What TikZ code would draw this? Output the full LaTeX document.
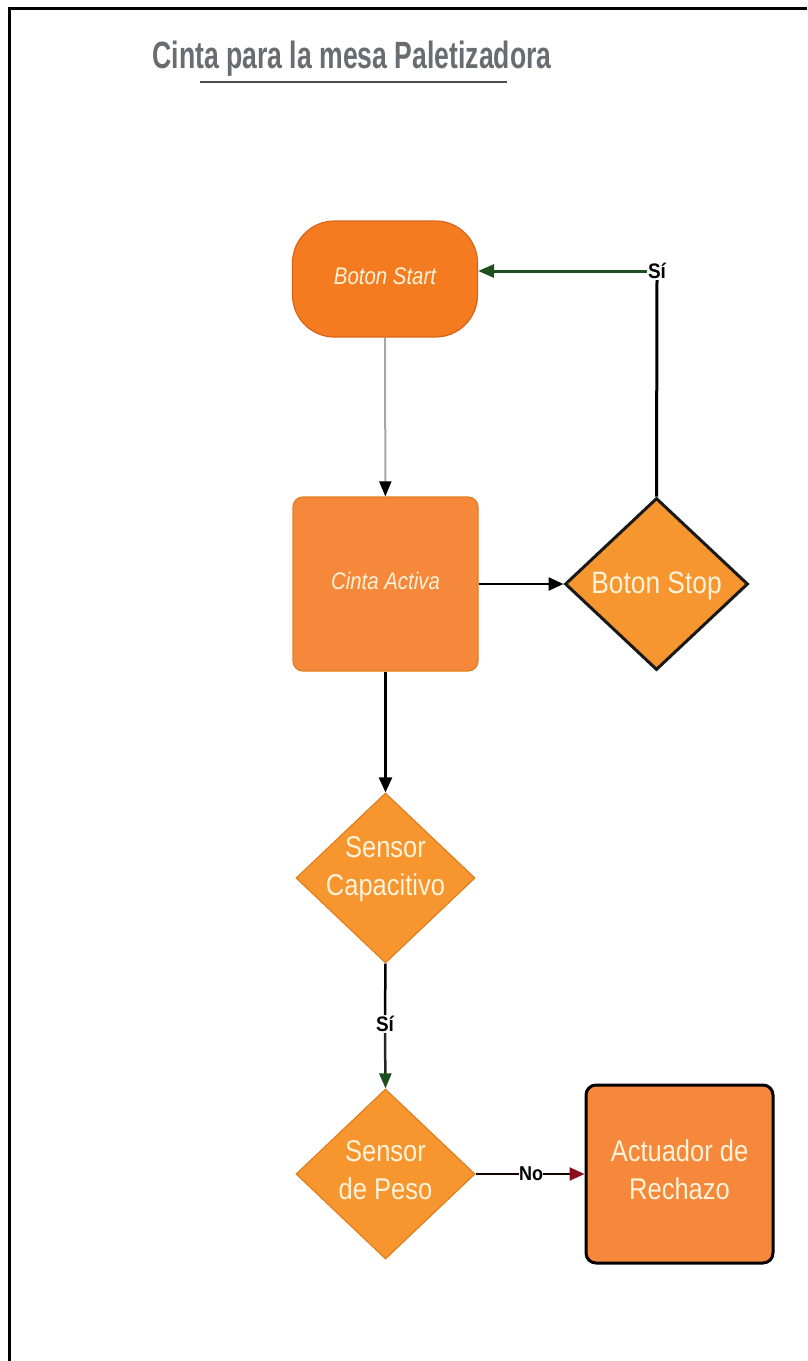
\documentclass[tikz,border=0pt]{standalone}
\usepackage{fontspec}
\setmainfont{Liberation Sans}
\usetikzlibrary{shapes.geometric,arrows.meta}
\definecolor{startor}{HTML}{F47B20}
\definecolor{startbd}{HTML}{D8641A}
\definecolor{boxor}{HTML}{F5883A}
\definecolor{diaor}{HTML}{F7952F}
\definecolor{diabd}{HTML}{E07F1E}
\definecolor{cream}{HTML}{FFF3DA}
\definecolor{titlegray}{HTML}{6B6C71}
\definecolor{dkgreen}{HTML}{1E4F1E}
\definecolor{dkred}{HTML}{8A0D17}
% #1 font size, #2 vertical shift, #3 text
\newcommand\flowtxt[3]{\smash{\makebox[0pt]{\raisebox{#2}{\scalebox{0.85}[1]{\fontsize{#1}{38}\selectfont\begin{tabular}{@{}c@{}}#3\end{tabular}}}}}}
\begin{document}
\begin{tikzpicture}[x=1pt,y=-1pt,
  startbox/.style={draw=startbd, line width=1.2pt, fill=startor, rounded corners=42pt,
    minimum width=185pt, minimum height=116pt, inner sep=0pt, text=cream},
  procbox/.style={draw=diabd, line width=1.2pt, fill=boxor, rounded corners=10pt,
    minimum width=185pt, minimum height=174pt, inner sep=0pt, text=cream},
  actbox/.style={procbox, draw=black, line width=3pt, minimum width=187pt, minimum height=178pt},
  decision/.style={diamond, fill=diaor, draw=diabd, line width=1.2pt,
    minimum width=179pt, minimum height=170pt, inner sep=0pt, text=cream},
  stopdec/.style={decision, draw=black!90, line width=3pt, minimum width=183pt, minimum height=172pt},
  flow/.style={line width=2.5pt, -{Triangle[length=15pt,width=13pt]}},
  plain/.style={line width=2.5pt},
  lbl/.style={inner sep=1pt, font=\bfseries\fontsize{21}{24}\selectfont}
]
\useasboundingbox (0,0) rectangle (807,1361);
\fill[white] (0,0) rectangle (807,1361);
% frame
\coordinate (fa) at (9,1361);
\coordinate (fb) at (9,8);
\coordinate (fc) at (807,8);
\draw[line width=3pt] (fa) -- (fb) -- (fc);

% title
\node[text=titlegray, inner sep=0pt, anchor=base] (title) at (352,68)
  {\scalebox{0.70}[1]{\fontsize{38}{44}\selectfont\bfseries Cinta para la mesa Paletizadora}};
\coordinate (ula) at (200,82);
\coordinate (ulb) at (507,82);
\draw[line width=2.5pt, draw=black!70] (ula) -- (ulb);

% nodes
\node[startbox] (start) at (385,279) {\flowtxt{24}{-4.5pt}{\itshape Boton Start}};
\node[procbox] (cinta) at (385.5,584) {\flowtxt{24}{-4.5pt}{\itshape Cinta Activa}};
\node[stopdec] (stop) at (656.5,584) {\flowtxt{31}{-8pt}{Boton Stop}};
\node[decision] (cap) at (385.5,878) {\flowtxt{30}{2.5pt}{Sensor\\Capacitivo}};
\node[decision] (peso) at (385.5,1174) {\flowtxt{30}{-5pt}{Sensor\\de Peso}};
\node[actbox] (act) at (679.5,1174) {\flowtxt{30}{-5pt}{Actuador de\\Rechazo}};

\node[lbl] (si1) at (657,271) {\scalebox{0.9}[1]{Sí}};
\node[lbl] (si2) at (385,1024) {\scalebox{0.9}[1]{Sí}};
\node[lbl, font=\bfseries\fontsize{20}{24}\selectfont, inner sep=0pt] (no) at (531,1174) {\scalebox{0.9}[1]{No}};

% connectors
\draw[line width=2pt, draw=black!35, -{Triangle[length=15pt,width=12pt,color=black]}] (start) -- (cinta);
\draw[flow] (cinta) -- (stop);
\draw[plain, line width=3pt] (stop.north) -- (si1.south);
\draw[line width=3pt, draw=dkgreen, -{Triangle[length=16pt,width=13pt]}] (si1.west) -- (si1 -| start.east);
\draw[flow] (cinta) -- (cap);
\draw[plain] (cap.south) -- (si2.north);
\draw[line width=2.5pt, draw=black!85, -{Triangle[length=15pt,width=12pt,color=dkgreen]}] (si2.south) -- (peso.north);
\draw[plain, draw=black!90!red] (peso.east) -- (no.west |- peso.east);
\draw[line width=2.5pt, draw=black!90!red, -{Triangle[length=15pt,width=13pt,color=dkred]}] (no.east |- act.west) -- (act.west);
\end{tikzpicture}
\end{document}
